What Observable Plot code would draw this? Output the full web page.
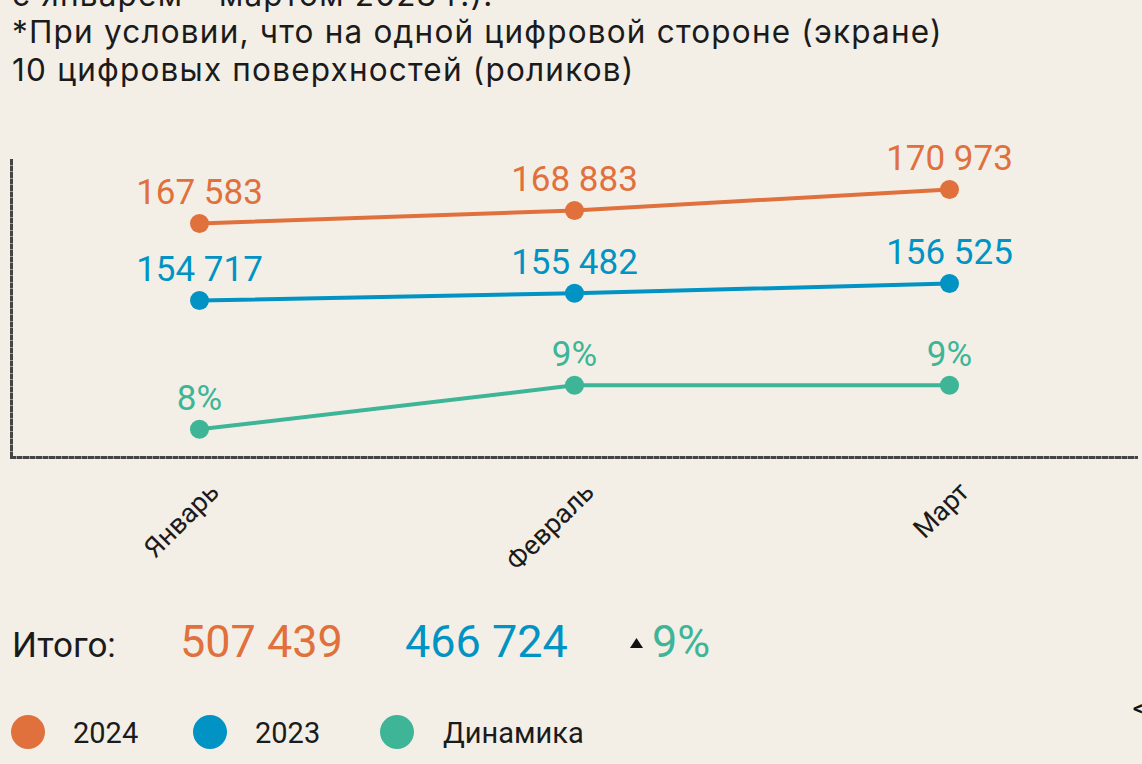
<!DOCTYPE html>
<html><head><meta charset="utf-8">
<script src="https://cdn.jsdelivr.net/npm/d3@7"></script>
<script src="https://cdn.jsdelivr.net/npm/@observablehq/plot@0.6"></script>
<style>
html,body{margin:0;padding:0;background:#f3efe7;width:1142px;height:764px;overflow:hidden;}
#page{position:relative;width:1142px;height:764px;font-family:Roboto, sans-serif;}
.hdr{position:absolute;left:12px;font-family:Inter, Roboto, sans-serif;font-size:31.5px;letter-spacing:1.2px;line-height:38px;color:#1b1b1b;white-space:nowrap;}
.layer{position:absolute;left:0;top:0;}
</style></head><body><div id="page"></div>
<script>
// ---- data ----
const headerLines = ["с январем - мартом 2023 г.):", "*При условии, что на одной цифровой стороне (экране)", "10 цифровых поверхностей (роликов)"];
const months = ["Январь", "Февраль", "Март"];
const values2024 = [167583, 168883, 170973];
const values2023 = [154717, 155482, 156525];
const dynamics = [8, 9, 9];
const seriesNames = ["2024", "2023", "Динамика"];
const seriesColors = ["#e0703c", "#0093c3", "#3db596"];
const totalLabel = "Итого:";
const totalDynamics = 9;

// ---- helpers ----
const fmt = d3.formatLocale({thousands: " ", grouping: [3], decimal: ",", currency: ["", ""]}).format(",d");
const pct = v => `${v}%`;
const page = document.getElementById("page");

const hdrTops = [-24.5, 13, 51];
headerLines.forEach((t, i) => {
  const d = document.createElement("div");
  d.className = "hdr";
  d.style.top = hdrTops[i] + "px";
  d.textContent = t;
  page.appendChild(d);
});

const W = 1142, H = 600;
const common = {
  width: W, height: H, marginTop: 160, marginBottom: 143, marginLeft: 11, marginRight: 6,
  style: {background: "transparent", overflow: "visible", fontFamily: "Roboto, sans-serif"}
};
const xOpts = {type: "point", domain: months, padding: 0.5};

function addLayer(svg) {
  svg.classList.add("layer");
  page.appendChild(svg);
}

// base: dotted frame + month axis
const frameStyle = {stroke: "#444", strokeWidth: 3, strokeDasharray: "3 3.5"};
const base = Plot.plot({
  ...common,
  x: xOpts,
  marks: [
    Plot.frame({anchor: "left", ...frameStyle}),
    Plot.frame({anchor: "bottom", ...frameStyle}),
    Plot.axisX({tickRotate: -45, tickSize: 0, tickPadding: 0, dx: 15, dy: 30, fontSize: 27, fill: "#1b1b1b"})
  ]
});
addLayer(base);

function seriesLayer(values, domain, color, label) {
  const data = months.map((m, i) => ({month: m, value: values[i]}));
  return Plot.plot({
    ...common,
    x: {...xOpts, axis: null},
    y: {domain, axis: null},
    marks: [
      Plot.line(data, {x: "month", y: "value", stroke: color, strokeWidth: 4}),
      Plot.dot(data, {x: "month", y: "value", r: 9.5, fill: color}),
      Plot.text(data, {x: "month", y: "value", text: d => label(d.value), fill: color, fontSize: 35, dy: -31})
    ]
  });
}

addLayer(seriesLayer(values2024, [144253, 173864], seriesColors[0], fmt));
addLayer(seriesLayer(values2023, [138015, 169611], seriesColors[1], fmt));
addLayer(seriesLayer(dynamics, [7.36, 14.11], seriesColors[2], pct));

// ---- totals + legend ----
const svg = d3.create("svg").attr("width", W).attr("height", 764)
  .style("position", "absolute").style("left", 0).style("top", 0)
  .style("font-family", "Roboto, sans-serif");
svg.append("text").attr("x", 12).attr("y", 657).attr("font-size", 35).attr("fill", "#1b1b1b").text(totalLabel);
svg.append("text").attr("x", 180).attr("y", 657).attr("font-size", 45).attr("fill", seriesColors[0]).text(fmt(d3.sum(values2024)));
svg.append("text").attr("x", 405).attr("y", 657).attr("font-size", 45).attr("fill", seriesColors[1]).text(fmt(d3.sum(values2023)));
svg.append("path").attr("d", "M630,648 L643,648 L636.5,638 Z").attr("fill", "#111");
svg.append("text").attr("x", 652).attr("y", 657).attr("font-size", 45).attr("fill", seriesColors[2]).text(pct(totalDynamics));

const legendX = [28, 210, 397];
const legendTextX = [73, 255, 443];
seriesNames.forEach((n, i) => {
  svg.append("circle").attr("cx", legendX[i]).attr("cy", 732).attr("r", 17).attr("fill", seriesColors[i]);
  svg.append("text").attr("x", legendTextX[i]).attr("y", 743).attr("font-size", 29).attr("fill", "#1b1b1b").text(n);
});
svg.append("text").attr("x", 1133).attr("y", 715).attr("font-size", 20).attr("font-weight", "bold").attr("fill", "#111").text("<");
page.appendChild(svg.node());
</script></body></html>
